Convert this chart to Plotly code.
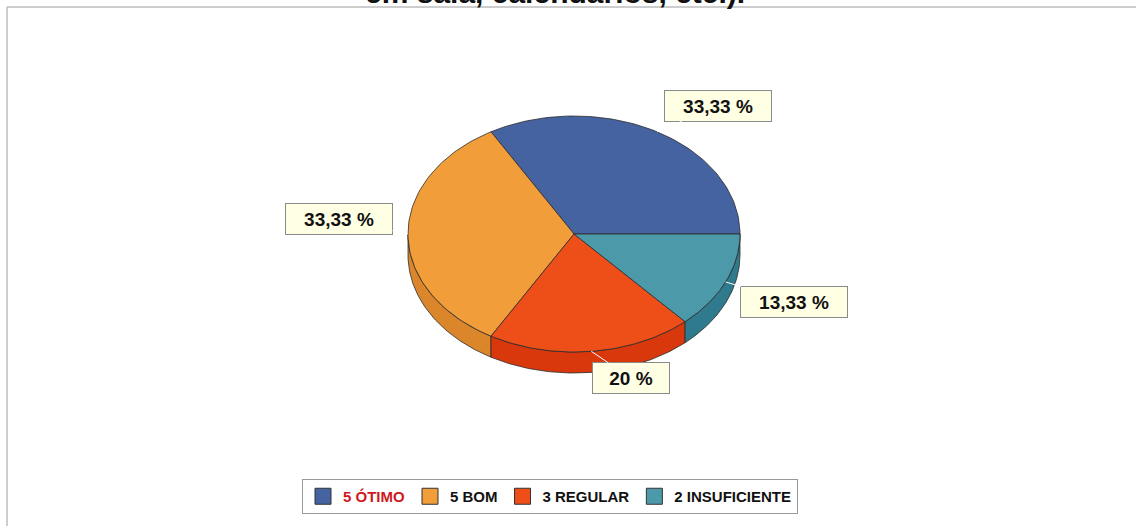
import numpy as np
import plotly.graph_objects as go

# Data
categories = ["ÓTIMO", "BOM", "REGULAR", "INSUFICIENTE"]
counts = [5, 5, 3, 2]
pct_labels = ["33,33 %", "33,33 %", "20 %", "13,33 %"]

top_colors = ["#4563A0", "#F09D3A", "#EE4E18", "#4B99A9"]
side_colors = ["#34508A", "#DB862A", "#D8380C", "#2F7A8C"]
edge = "#2b2b2b"

# Pie geometry (1 unit = 166 px)
px = 166.0
cx_px, cy_px = 574.0, 234.0
W, H = 1136, 526
tilt = 118.0 / 166.0
depth = 21.0 / 166.0

total = sum(counts)
bounds = np.concatenate([[0], np.cumsum(counts)]) / total * 360.0


def arc(t0, t1, n=80):
    t = np.radians(np.linspace(t0, t1, n))
    return np.cos(t), tilt * np.sin(t)


fig = go.Figure()

# Side walls (front half only: 180..360 deg)
for i in range(len(counts)):
    a0, a1 = max(bounds[i], 180.0), min(bounds[i + 1], 360.0)
    if a1 <= a0:
        continue
    x, y = arc(a0, a1)
    xs = np.concatenate([x, x[::-1], x[:1]])
    ys = np.concatenate([y, y[::-1] - depth, y[:1]])
    fig.add_trace(go.Scatter(x=xs, y=ys, mode="lines", fill="toself",
                             fillcolor=side_colors[i], line=dict(color=edge, width=0.8),
                             hoverinfo="skip", showlegend=False))

# Top faces
for i in range(len(counts)):
    x, y = arc(bounds[i], bounds[i + 1])
    xs = np.concatenate([[0], x, [0]])
    ys = np.concatenate([[0], y, [0]])
    fig.add_trace(go.Scatter(x=xs, y=ys, mode="lines", fill="toself",
                             fillcolor=top_colors[i], line=dict(color=edge, width=0.8),
                             name=categories[i], hoverinfo="name", showlegend=False))

# Legend entries
legend_names = [f"<b>{c} {n}</b>" for c, n in zip(counts, categories)]
legend_names[0] = f"<span style='color:#D0191F'>{legend_names[0]}</span>"
for i, nm in enumerate(legend_names):
    fig.add_trace(go.Scatter(x=[None], y=[None], mode="markers", name=nm,
                             marker=dict(symbol="square", size=16, color=top_colors[i],
                                         line=dict(color="#333", width=1))))

# Percentage labels with leader lines
offsets = [(61, -26), (-69, -15), (40, 27), (68, 20)]
box_w = [100, 100, 70, 100]
for i in range(len(counts)):
    mid = np.radians((bounds[i] + bounds[i + 1]) / 2)
    fig.add_annotation(x=np.cos(mid), y=tilt * np.sin(mid), xref="x", yref="y",
                       text=f"<b>{pct_labels[i]}</b>", showarrow=True, arrowhead=0,
                       arrowcolor="white", arrowwidth=1, ax=offsets[i][0], ay=offsets[i][1],
                       bgcolor="#FFFFE3", bordercolor="#8a8a8a", borderwidth=1, borderpad=3,
                       width=box_w[i], height=24,
                       font=dict(family="Arial, Liberation Sans", size=19, color="#111"))

# Cut-off title line
fig.add_annotation(text="<b>em sala, calendários, etc.).</b>", xref="paper", yref="paper",
                   x=555 / W, y=1 - 11 / H, xanchor="center", yanchor="bottom", showarrow=False,
                   font=dict(family="Arial, Liberation Sans", size=30, color="#111"))

# Frame lines
fig.add_shape(type="line", xref="paper", yref="paper", x0=7 / W, y0=1 - 7 / H, x1=1, y1=1 - 7 / H,
              line=dict(color="#BDBDBD", width=1.5))
fig.add_shape(type="line", xref="paper", yref="paper", x0=7 / W, y0=1 - 7 / H, x1=7 / W, y1=0,
              line=dict(color="#BDBDBD", width=1.5))

fig.update_layout(
    width=W, height=H,
    margin=dict(l=0, r=0, t=0, b=0),
    paper_bgcolor="white", plot_bgcolor="white",
    xaxis=dict(range=[-cx_px / px, (W - cx_px) / px], visible=False, fixedrange=True),
    yaxis=dict(range=[-(H - cy_px) / px, cy_px / px], visible=False, fixedrange=True),
    legend=dict(orientation="h", x=550 / W, xanchor="center", y=1 - 479 / H, yanchor="top",
                bgcolor="white", bordercolor="#999", borderwidth=1,
                font=dict(family="Arial, Liberation Sans", size=15, color="#111"),
                itemsizing="trace", tracegroupgap=0),
)

fig.write_html("out.html", config={"displayModeBar": False},
               post_script="document.body.style.margin='0';")
